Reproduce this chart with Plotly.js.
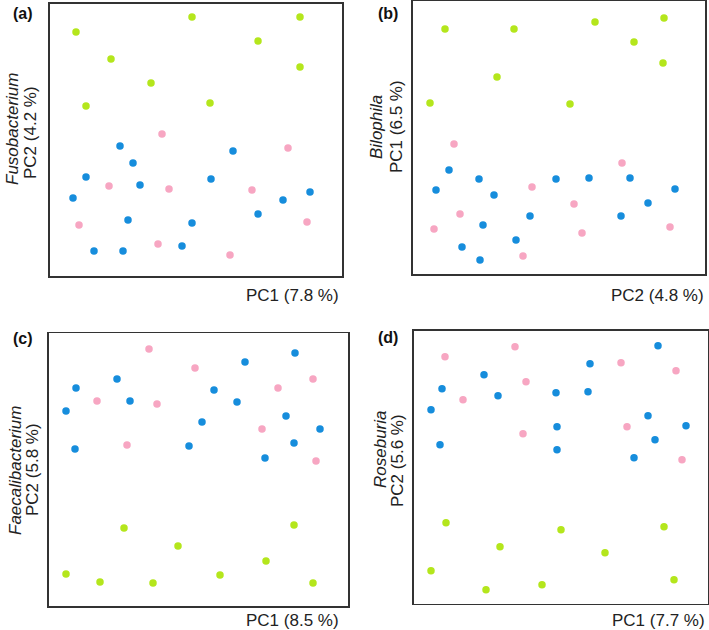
<!DOCTYPE html>
<html>
<head>
<meta charset="utf-8">
<script src="https://cdn.plot.ly/plotly-3.0.1.min.js"></script>
<style>html,body{margin:0;padding:0;background:#fff;}#chart{width:709px;height:630px;}</style>
</head>
<body>
<div id="chart"></div>
<script>
// Panel (a) Fusobacterium: PC1 vs PC2 scores (arbitrary units)
const aGreenX = [26,142,250,208,61,250,101,36,160];
const aGreenY = [244,259,259,235,217,209,193,170,173];
const aPinkX  = [112,238,59,119,202,29,257,108,180];
const aPinkY  = [142,128,90,87,86,51,54,32,21];
const aBlueX  = [70,183,83,36,90,161,23,260,233,78,142,208,44,73,132];
const aBlueY  = [130,125,113,99,91,97,78,84,76,56,53,62,25,25,30];

// Panel (b) Bilophila: PC2 vs PC1
const bGreenX = [32,101,182,251,221,250,84,17,157];
const bGreenY = [245,245,252,256,232,211,197,171,170];
const bPinkX  = [41,209,119,161,47,21,257,169,110];
const bPinkY  = [130,111,87,70,60,45,47,41,18];
const bBlueX  = [36,66,143,176,217,23,81,262,235,117,208,70,103,49,67];
const bBlueY  = [104,95,95,96,96,84,79,85,71,58,58,49,34,27,14];

// Panel (c) Faecalibacterium: PC1 vs PC2
const cGreenX = [75,245,129,217,17,51,104,171,264];
const cGreenY = [78,81,60,45,32,24,23,31,23];
const cPinkX  = [100,146,48,108,229,264,213,78,267];
const cPinkY  = [257,238,205,202,218,227,177,161,145];
const cBlueX  = [27,68,196,246,17,81,165,188,153,237,271,26,140,245,216];
const cBlueY  = [218,227,244,253,195,205,216,204,184,190,177,157,160,163,148];

// Panel (d) Roseburia: PC1 vs PC2
const dGreenX = [32,147,250,86,191,17,72,128,260];
const dGreenY = [81,74,77,57,51,33,14,19,24];
const dPinkX  = [31,101,207,262,112,49,109,213,268];
const dPinkY  = [247,257,241,233,222,204,170,177,144];
const dBlueX  = [244,176,70,28,84,142,174,17,234,272,143,26,241,143,220];
const dBlueY  = [258,240,229,215,208,211,212,194,188,178,177,159,164,154,146];

const panelLabels = ["(a)","(b)","(c)","(d)"];
const genusNames = ["Fusobacterium","Bilophila","Faecalibacterium","Roseburia"];
const yTitles = ["PC2 (4.2 %)","PC1 (6.5 %)","PC2 (5.8 %)","PC2 (5.6 %)"];
const xTitles = ["PC1 (7.8 %)","PC2 (4.8 %)","PC1 (8.5 %)","PC1 (7.7 %)"];

const colGreen = "#b4e61c";
const colPink  = "#f7a6c2";
const colBlue  = "#168ddc";

const W = 709, H = 630;
// frames in pixels: [left, right, top, bottom]
const frames = [
  [50, 342, 3.5, 276],
  [413, 705, 1, 274],
  [49, 348, 333.3, 606],
  [414, 707.5, 330.7, 603.7]
];
const ranges = frames.map(f => [f[1]-f[0], f[3]-f[2]]);

const sets = [
  [aGreenX,aGreenY,aPinkX,aPinkY,aBlueX,aBlueY],
  [bGreenX,bGreenY,bPinkX,bPinkY,bBlueX,bBlueY],
  [cGreenX,cGreenY,cPinkX,cPinkY,cBlueX,cBlueY],
  [dGreenX,dGreenY,dPinkX,dPinkY,dBlueX,dBlueY]
];

const traces = [];
const layout = {
  width: W, height: H,
  margin: {l:0, r:0, t:0, b:0},
  paper_bgcolor: "#fff", plot_bgcolor: "#fff",
  showlegend: false,
  font: {family: "Liberation Sans, Arial, sans-serif", color: "#222"},
  annotations: []
};

sets.forEach((s, i) => {
  const n = i === 0 ? "" : String(i+1);
  const xa = "x" + n, ya = "y" + n;
  [[s[0],s[1],colGreen],[s[2],s[3],colPink],[s[4],s[5],colBlue]].forEach(g => {
    traces.push({x: g[0], y: g[1], xaxis: xa, yaxis: ya, type: "scatter", mode: "markers",
      marker: {color: g[2], size: 7.5, line: {width: 0}}, hoverinfo: "skip"});
  });
  const f = frames[i];
  const axCommon = {showgrid:false, zeroline:false, showticklabels:false, ticks:"",
    showline:true, mirror:true, linecolor:"#333", linewidth:1.6, fixedrange:true};
  layout["xaxis" + n] = Object.assign({}, axCommon, {
    domain: [f[0]/W, f[1]/W], range: [0, ranges[i][0]], anchor: ya});
  layout["yaxis" + n] = Object.assign({}, axCommon, {
    domain: [1 - f[3]/H, 1 - f[2]/H], range: [0, ranges[i][1]], anchor: xa});
});

// text positions in pixels
const labelPos = [[23,13],[388,13],[23,338],[388,337]];
const genusPos = [[13,129],[377,127],[15,471],[380,449]];
const yTitlePos = [[30,132],[397,127],[32,470],[398,461]];
const xTitlePos = [[341,295],[706,295],[341,620],[707,620]];

for (let i = 0; i < 4; i++) {
  layout.annotations.push({text: "<b>" + panelLabels[i] + "</b>", xref:"paper", yref:"paper",
    x: labelPos[i][0]/W, y: 1 - labelPos[i][1]/H, xanchor:"center", yanchor:"middle",
    showarrow:false, font:{size:16, color:"#111"}});
  layout.annotations.push({text: "<i>" + genusNames[i] + "</i>", xref:"paper", yref:"paper",
    x: genusPos[i][0]/W, y: 1 - genusPos[i][1]/H, xanchor:"center", yanchor:"middle",
    textangle:-90, showarrow:false, font:{size:17, color:"#222"}});
  layout.annotations.push({text: yTitles[i], xref:"paper", yref:"paper",
    x: yTitlePos[i][0]/W, y: 1 - yTitlePos[i][1]/H, xanchor:"center", yanchor:"middle",
    textangle:-90, showarrow:false, font:{size:17, color:"#222"}});
  layout.annotations.push({text: xTitles[i], xref:"paper", yref:"paper",
    x: xTitlePos[i][0]/W, y: 1 - xTitlePos[i][1]/H, xanchor:"right", yanchor:"middle",
    showarrow:false, font:{size:17, color:"#222"}});
}

Plotly.newPlot("chart", traces, layout, {displayModeBar:false, staticPlot:true});
</script>
</body>
</html>
